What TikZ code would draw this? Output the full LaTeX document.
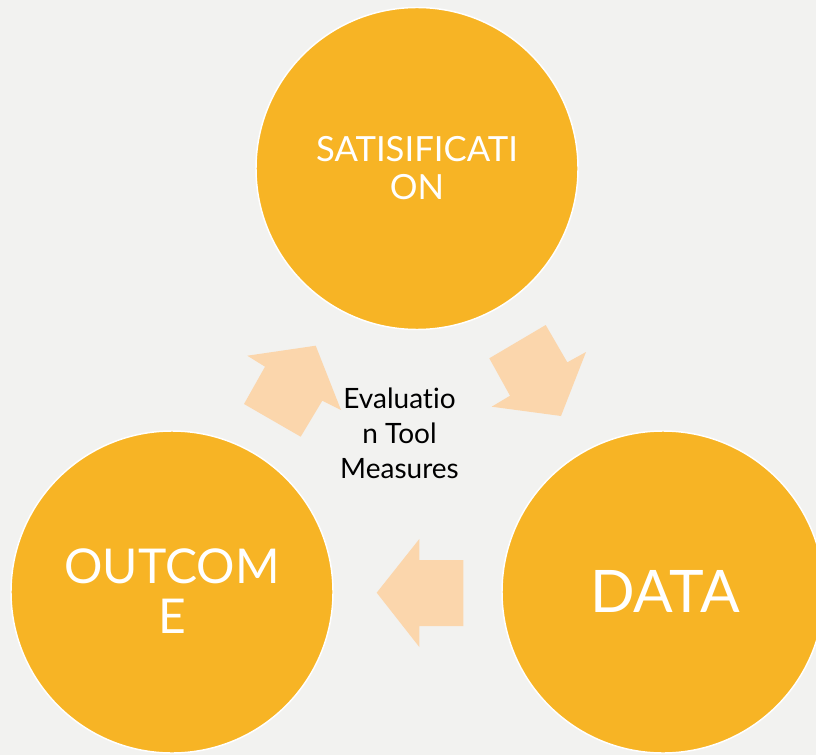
\documentclass[tikz,border=0pt]{standalone}
\usepackage{fontspec}
\setmainfont{Lato}[Ligatures={NoCommon,NoContextual}]
\usepackage{tikz}
\definecolor{gold}{HTML}{F7B425}
\definecolor{peach}{HTML}{FBD6AC}
\definecolor{paper}{HTML}{F2F2F0}

\begin{document}
\begin{tikzpicture}[line cap=round,line join=round,x=0.75pt,y=-0.75pt,
    bubble/.style={circle,fill=gold,draw=white,line width=1.1pt,minimum size=241.5pt,inner sep=0pt},
    chevron/.style={fill=peach,draw=none},
    bubbletext/.style={color=white,align=center,anchor=base,inner sep=0pt}]
                \clip (0,0) rectangle (816,755);
                \fill [paper] (0,0) rectangle (816,755);
                % circles
                \node [bubble] (sat) at (417,168.5) {};
                \node [bubble] (out) at (172,592) {};
                \node [bubble] (dat) at (663,592) {};
                % block arrows
                \fill [chevron] (247.3,355.7)-- (315.7,345.7)-- (341,410)-- (322.3,400.7)-- (300.7,436.7)-- (244,404)-- (265,366.7)-- cycle;
                \fill [chevron] (545.7,325)-- (567.3,362.3)-- (586,352)-- (561,416)-- (491.7,406.7)-- (510,395.7)-- (489.3,358.3)-- cycle;
                \fill [chevron] (419.3,539)-- (419.3,560)-- (463.3,560)-- (463.3,626)-- (419.3,626)-- (419.3,647)-- (376.7,592.7)-- cycle;
                % labels (base = last line)
                \node [bubbletext,font=\fontsize{26}{28.9}\selectfont] (satlabel) at (417,200) {SATISIFICATI\\ON};
                \node [bubbletext,font=\fontsize{36}{37.5}\selectfont] (outlabel) at (172,633) {OUTCOM\\E};
                \node [bubbletext,font=\fontsize{44}{50}\selectfont] (datlabel) at (665,612) {DATA};
                \node [bubbletext,color=black,font=\fontsize{21}{26}\selectfont] (evallabel) at (399.5,478) {Evaluatio\\n Tool\\Measures};
            \end{tikzpicture}
\end{document}
